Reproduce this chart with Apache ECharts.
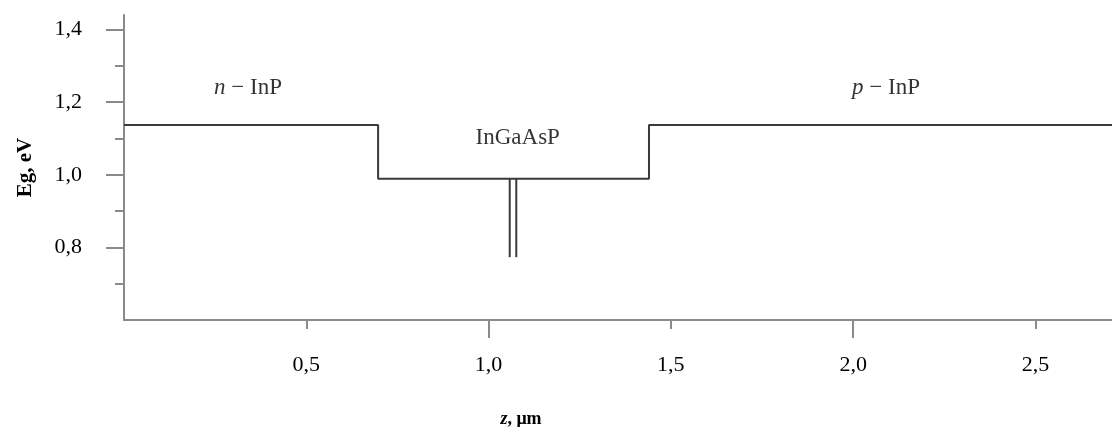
<!DOCTYPE html>
<html>
<head>
<meta charset="utf-8">
<script src="https://cdn.jsdelivr.net/npm/echarts@6/dist/echarts.min.js"></script>
<style>html,body{margin:0;padding:0;background:#fff}#c{width:1112px;height:427px}</style>
</head>
<body>
<div id="c"></div>
<script>
// ---- data ----
const profileZ = [0, 0.697, 0.697, 1.44, 1.44, 2.71];
const profileEg = [1.137, 1.137, 0.989, 0.989, 1.137, 1.137];
const wellZ = [1.058, 1.076];
const wellTopEg = 0.989;
const wellBottomEg = 0.773;
const regionPrefix = ['n', '', 'p'];
const regionNames = ['InP', 'InGaAsP', 'InP'];
const regionZ = [0.34, 1.08, 2.09];
const regionEg = [1.24, 1.10, 1.24];
const yMajorTicks = [0.8, 1.0, 1.2, 1.4];
const yMinorTicks = [0.7, 0.9, 1.1, 1.3];
const xLabelTicks = [0.5, 1.0, 1.5, 2.0, 2.5];
const xLongTicks = [1.0, 2.0];
const xShortTicks = [0.5, 1.5, 2.5];
const yRange = [0.6, 1.44];
const xRange = [0, 2.71];

const FONT = '"Liberation Serif", "DejaVu Serif", serif';
const AXIS_COLOR = '#8a8a8a';
const LINE_COLOR = '#3a3a3a';
const TEXT_COLOR = '#000';
const fmt = v => Number(v).toFixed(1).replace('.', ',');

const chart = echarts.init(document.getElementById('c'));
const series = [];
series.push({
  type: 'line', xAxisIndex: 0, yAxisIndex: 0, symbol: 'none', silent: true,
  lineStyle: {color: LINE_COLOR, width: 2},
  data: profileZ.map((z, i) => [z, profileEg[i]])
});
wellZ.forEach(z => series.push({
  type: 'line', xAxisIndex: 0, yAxisIndex: 0, symbol: 'none', silent: true,
  lineStyle: {color: LINE_COLOR, width: 2},
  data: [[z, wellTopEg], [z, wellBottomEg]]
}));
series.push({
  type: 'scatter', xAxisIndex: 0, yAxisIndex: 0, symbolSize: 0, silent: true,
  data: regionZ.map((z, i) => ({value: [z, regionEg[i]], prefix: regionPrefix[i], name: regionNames[i]})),
  label: {
    show: true, position: 'inside',
    formatter: p => p.data.prefix ? '{it|' + p.data.prefix + '}{rm| − ' + p.data.name + '}' : '{rm|' + p.data.name + '}',
    rich: {
      it: {fontFamily: FONT, fontSize: 23, fontStyle: 'italic', color: TEXT_COLOR},
      rm: {fontFamily: FONT, fontSize: 23, color: TEXT_COLOR}
    }
  }
});

chart.setOption({
  animation: false,
  backgroundColor: '#fff',
  grid: {left: 124, right: 0, top: 15, bottom: 107},
  title: {
    text: '{it|z}{b|, μm}',
    left: 516, top: 405, textAlign: 'center',
    textStyle: {rich: {
      it: {fontFamily: FONT, fontSize: 18, fontWeight: 'bold', fontStyle: 'italic', color: TEXT_COLOR},
      b: {fontFamily: FONT, fontSize: 18, fontWeight: 'bold', color: TEXT_COLOR}
    }}
  },
  xAxis: [{
    type: 'value', position: 'bottom', min: xRange[0], max: xRange[1],
    axisLine: {show: true, lineStyle: {color: AXIS_COLOR, width: 2}},
    axisTick: {show: true, customValues: xLongTicks, length: 18, lineStyle: {color: AXIS_COLOR, width: 2}},
    axisLabel: {customValues: xLabelTicks, formatter: fmt, margin: 34, fontFamily: FONT, fontSize: 22, color: TEXT_COLOR},
    splitLine: {show: false}
  }, {
    type: 'value', position: 'bottom', min: xRange[0], max: xRange[1],
    axisLine: {show: false},
    axisTick: {show: true, customValues: xShortTicks, length: 9, lineStyle: {color: AXIS_COLOR, width: 2}},
    axisLabel: {show: false}, splitLine: {show: false}
  }],
  yAxis: [{
    type: 'value', position: 'left', min: yRange[0], max: yRange[1],
    name: 'Eg, eV', nameLocation: 'middle', nameGap: 88, nameRotate: 90,
    nameTextStyle: {fontFamily: FONT, fontSize: 21, fontWeight: 'bold', color: TEXT_COLOR},
    axisLine: {show: true, lineStyle: {color: AXIS_COLOR, width: 2}},
    axisTick: {show: true, customValues: yMajorTicks, length: 18, lineStyle: {color: AXIS_COLOR, width: 2}},
    axisLabel: {customValues: yMajorTicks, formatter: fmt, margin: 42, fontFamily: FONT, fontSize: 22, color: TEXT_COLOR},
    splitLine: {show: false}
  }, {
    type: 'value', position: 'left', min: yRange[0], max: yRange[1],
    axisLine: {show: false},
    axisTick: {show: true, customValues: yMinorTicks, length: 9, lineStyle: {color: AXIS_COLOR, width: 2}},
    axisLabel: {show: false}, splitLine: {show: false}
  }],
  series: series
});
</script>
</body>
</html>
